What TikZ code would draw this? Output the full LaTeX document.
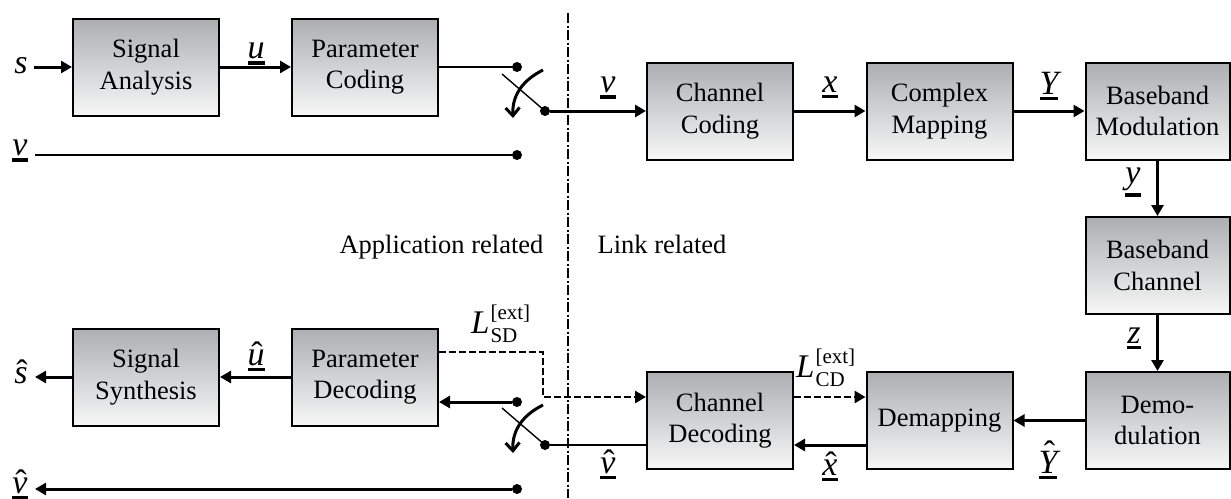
\documentclass[tikz,border=0pt]{standalone}
\usepackage{fontspec}
\setmainfont{Liberation Serif}
\usetikzlibrary{arrows.meta}
\definecolor{boxtop}{RGB}{172,174,178}
\definecolor{boxbot}{RGB}{247,247,247}
\newcommand\ulab[1]{\leavevmode\vtop{\hbox{#1}\kern3pt\hrule height 3.3pt}}
\newcommand\hatl[3][2pt]{{\ooalign{\hbox{#3}\cr\hidewidth\kern#1\raisebox{#2}{\upshape\symbol{"02C6}}\hidewidth\cr}}}
\newcommand\Lext[1]{{\itshape L}\kern1pt\rlap{\raisebox{14pt}{\fontsize{21}{23}\selectfont[ext]}}\raisebox{-9pt}{\fontsize{21}{23}\selectfont #1}}
\tikzset{
  blk/.style={draw, line width=2pt, top color=boxtop, bottom color=boxbot,
    minimum width=146pt, minimum height=97pt, inner sep=0pt, align=center,
    font=\fontsize{26.5}{31.5}\selectfont},
  lab/.style={inner sep=0pt, font=\fontsize{34}{38}\selectfont\itshape},
  txt/.style={inner sep=0pt, font=\fontsize{26.5}{31.5}\selectfont},
  dot/.style={circle, fill, inner sep=0pt, minimum size=10pt},
  arr/.style={line width=3pt, -{Triangle[length=11pt,width=12pt]}},
  darr/.style={line width=2.8pt, dash pattern=on 6.5pt off 3.5pt, -{Triangle[length=11pt,width=12pt]}},
  thinl/.style={line width=1.4pt},
  medl/.style={line width=2pt},
  carr/.style={line width=3pt, -{Straight Barb[length=8pt,width=14pt]}},
  dashdot/.style={line width=2.4pt, dash pattern=on 10pt off 2.5pt on 2pt off 2.5pt},
}
\begin{document}
\begin{tikzpicture}[x=1pt,y=-1pt]
\useasboundingbox (0,0) rectangle (1231,498);
% blocks
\node[blk] (sa) at (146,67) {Signal\\Analysis};
\node[blk] (pc) at (365,67) {Parameter\\Coding};
\node[blk] (cc) at (720,111) {Channel\\Coding};
\node[blk] (cm) at (939.5,111) {Complex\\Mapping};
\node[blk, minimum width=144pt] (bm) at (1157.5,111) {Baseband\\Modulation};
\node[blk, minimum width=144pt] (bc) at (1157.5,265.5) {Baseband\\Channel};
\node[blk, minimum width=144pt] (dm) at (1157.5,420.5) {Demo-\\dulation};
\node[blk] (dmap) at (939.5,420.5) {Demapping};
\node[blk] (cd) at (720,420.5) {Channel\\Decoding};
\node[blk] (pd) at (365,377) {Parameter\\Decoding};
\node[blk] (ss) at (146,377) {Signal\\Synthesis};
% dots
\node[dot] (d1) at (517,67) {};
\node[dot] (d2) at (545,111) {};
\node[dot] (d3) at (517,155) {};
\node[dot] (d4) at (517,402) {};
\node[dot] (d5) at (545,445) {};
\node[dot] (d6) at (517,489) {};
% free ends
\coordinate (sin) at (34,67);
\coordinate (vin) at (35,155);
\coordinate (sout) at (35,377);
\coordinate (vout) at (35,489);
\coordinate (lv1) at (502,74);
\coordinate (lv2) at (502,408);
\coordinate (ca1) at (543,70);
\coordinate (ca2) at (513,118);
\coordinate (cb1) at (543,405);
\coordinate (cb2) at (513,453);
\coordinate (k1) at (543,352);
\coordinate (k2) at (543,397);
\coordinate (dtop) at (568,13);
\coordinate (dbot) at (568,498);
% separator
\draw[dashdot] (dtop) -- (dbot);
% connectors
\draw[arr] (sin) -- (sa.west);
\draw[arr] (sa.east) -- (pc.west);
\draw[thinl] (pc.east) -- (d1);
\draw[medl] (vin) -- (d3);
\draw[thinl] (lv1) -- (d2.center);
\draw[carr] (ca1) .. controls (523,80) and (512,95) .. (ca2);
\draw[arr] (d2) -- (cc.west);
\draw[arr] (cc.east) -- (cm.west);
\draw[arr] (cm.east) -- (bm.west);
\draw[arr] (bm.south) -- (bc.north);
\draw[arr] (bc.south) -- (dm.north);
\draw[arr] (dm.west) -- (dmap.east);
\draw[arr] (dmap.west |- d5) -- (cd.east |- d5);
\draw[darr] (cd.east |- k2) -- (dmap.west |- k2);
\draw[darr] (pd.east |- k1) -- (k1) -- (k2) -- (cd.west |- k2);
\draw[thinl] (d5) -- (cd.west |- d5);
\draw[thinl] (lv2) -- (d5.center);
\draw[carr] (cb1) .. controls (523,415) and (512,430) .. (cb2);
\draw[arr] (d4) -- (pd.east |- d4);
\draw[arr] (d6) -- (vout);
\draw[arr] (pd.west) -- (ss.east);
\draw[arr] (ss.west) -- (sout);
% labels
\node[lab, anchor=base] (ls) at (21,73) {s};
\node[lab, anchor=base] (lu) at (256,58) {\ulab{u}};
\node[lab, anchor=base] (lv) at (20,155) {\ulab{v}};
\node[lab, anchor=base] (lv2t) at (608,92) {\ulab{v}};
\node[lab, anchor=base] (lx) at (830,92) {\ulab{x}};
\node[lab, anchor=base] (lY) at (1049,94) {\ulab{Y}};
\node[lab, anchor=base] (ly) at (1133,183) {\ulab{y}};
\node[lab, anchor=base] (lz) at (1134,343) {\ulab{z}};
\node[lab, anchor=base] (lYh) at (1048,473) {\ulab{\hatl[3pt]{8.5pt}{Y}}};
\node[lab, anchor=base] (lxh) at (830,475) {\ulab{\hatl{0pt}{x}}};
\node[lab, anchor=base] (lvh) at (608,473) {\ulab{\hatl{0pt}{v}}};
\node[lab, anchor=base] (luh) at (256,365) {\ulab{\hatl{0pt}{u}}};
\node[lab, anchor=base] (lsh) at (21,383) {\hatl{0pt}{s}};
\node[lab, anchor=base] (lvh2) at (20,493) {\ulab{\hatl{0pt}{v}}};
\node[lab, anchor=base west, font=\fontsize{33}{36}\selectfont] (lsd) at (471,333) {\Lext{SD}};
\node[lab, anchor=base west, font=\fontsize{33}{36}\selectfont] (lcd) at (796,377) {\Lext{CD}};
\node[txt, anchor=base] (app) at (441.5,253) {Application related};
\node[txt, anchor=base] (link) at (662,253) {Link related};
\end{tikzpicture}
\end{document}
